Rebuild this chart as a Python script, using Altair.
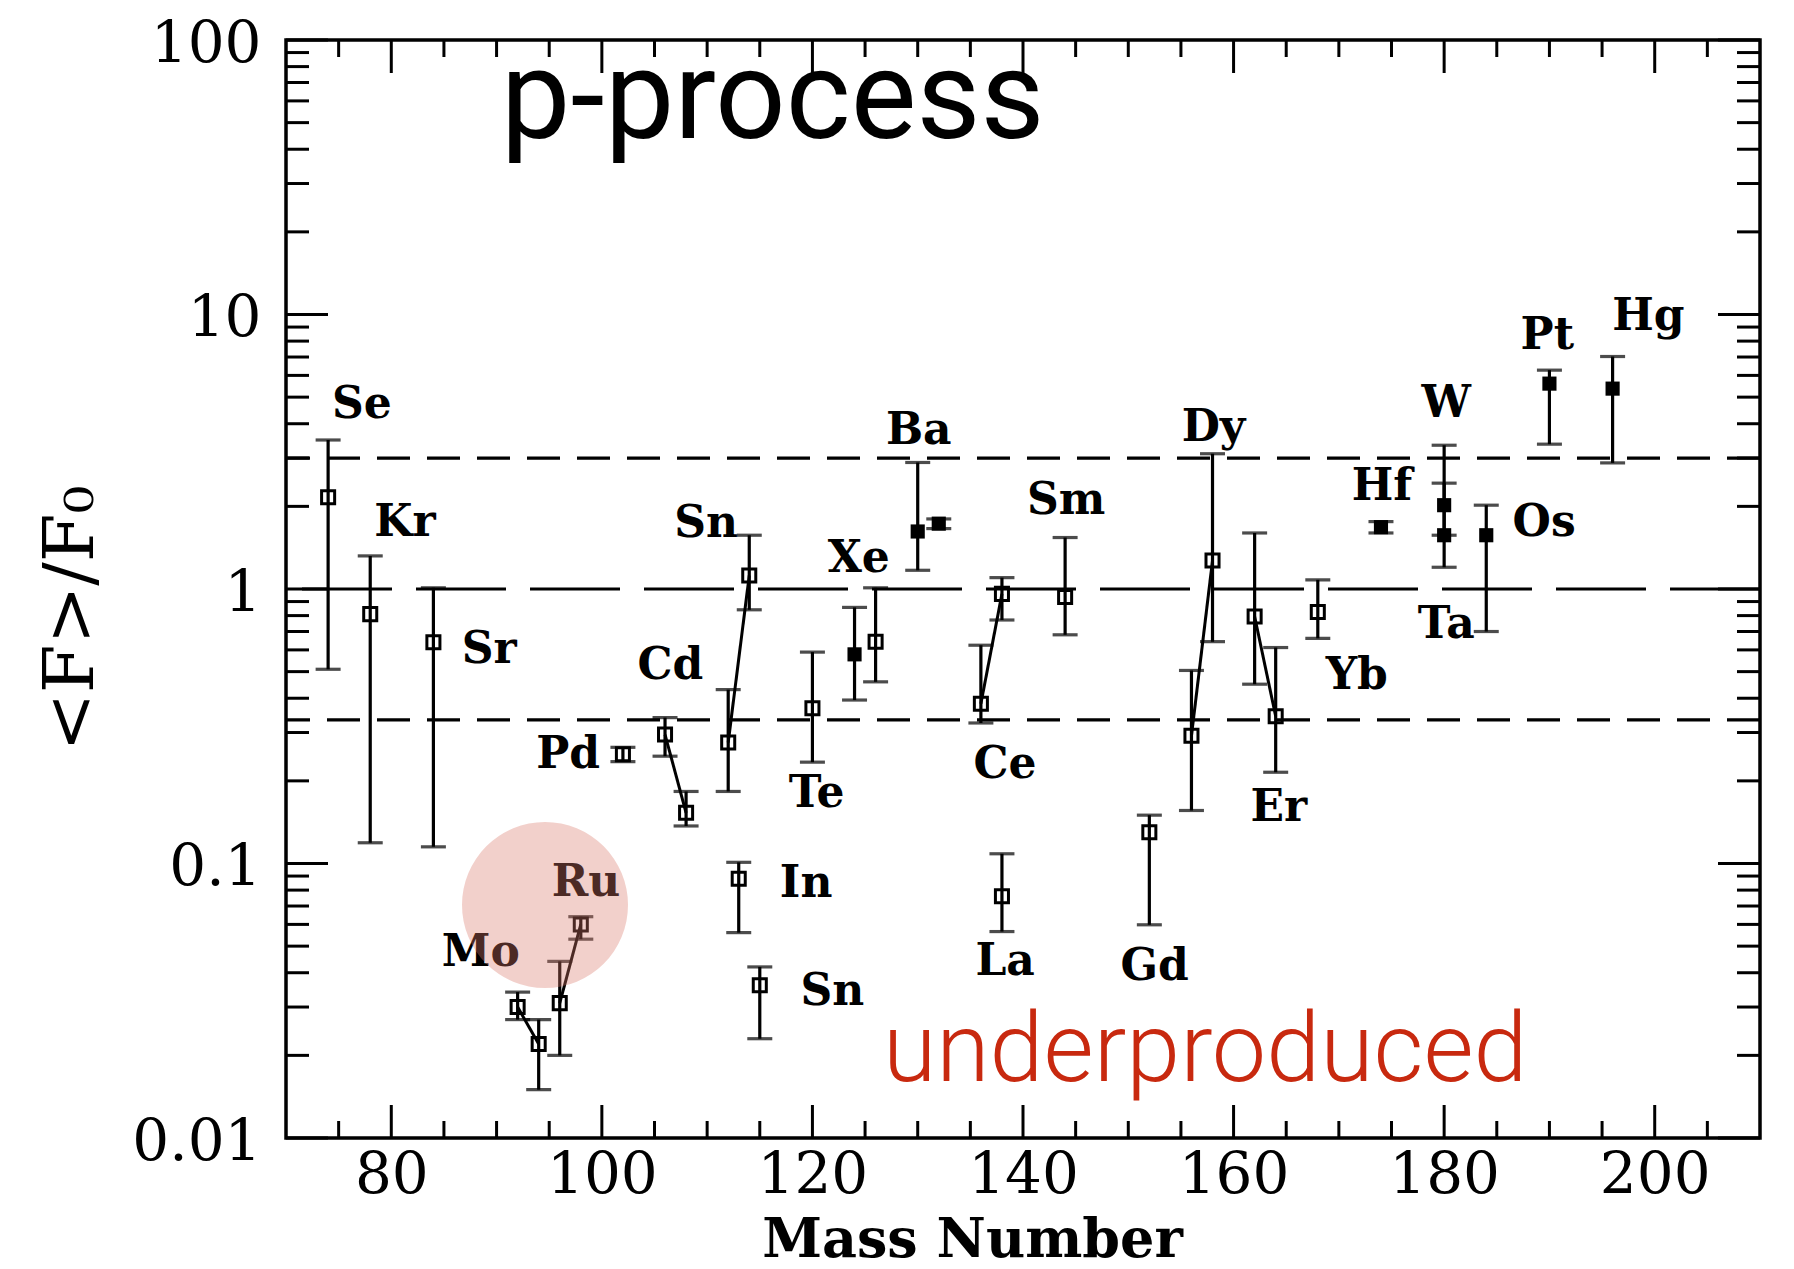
import altair as alt
import pandas as pd

# p-nuclei: mass number, normalised overproduction <F>/F0 and its uncertainty range
nuclide = ["74Se", "78Kr", "84Sr", "92Mo", "94Mo", "96Ru", "98Ru", "102Pd", "106Cd", "108Cd",
           "112Sn", "113In", "114Sn", "115Sn", "120Te", "124Xe", "126Xe", "130Ba", "132Ba",
           "136Ce", "138Ce", "138La", "144Sm", "152Gd", "156Dy", "158Dy", "162Er", "164Er",
           "168Yb", "174Hf", "180W", "180Ta", "184Os", "190Pt", "196Hg"]
mass = [74, 78, 84, 92, 94, 96, 98, 102, 106, 108,
        112, 113, 114, 115, 120, 124, 126, 130, 132,
        136, 138, 138, 144, 152, 156, 158, 162, 164,
        168, 174, 180, 180, 184, 190, 196]
ratio = [2.16, 0.81, 0.64, 0.030, 0.022, 0.031, 0.060, 0.25, 0.295, 0.153,
         0.276, 0.088, 1.12, 0.036, 0.368, 0.578, 0.643, 1.62, 1.73,
         0.382, 0.96, 0.076, 0.935, 0.130, 0.292, 1.27, 0.794, 0.344,
         0.825, 1.68, 2.02, 1.57, 1.57, 5.6, 5.37]
ratio_lo = [0.51, 0.119, 0.115, 0.027, 0.015, 0.020, 0.053, 0.235, 0.246, 0.137,
            0.183, 0.056, 0.84, 0.023, 0.234, 0.394, 0.459, 1.17, 1.66,
            0.325, 0.771, 0.0565, 0.681, 0.0598, 0.156, 0.643, 0.45, 0.215,
            0.661, 1.60, 1.57, 1.20, 0.70, 3.37, 2.88]
ratio_hi = [3.49, 1.32, 1.01, 0.034, 0.027, 0.044, 0.064, 0.265, 0.34, 0.183,
            0.43, 0.101, 1.57, 0.042, 0.589, 0.857, 1.01, 2.89, 1.80,
            0.624, 1.10, 0.1085, 1.54, 0.150, 0.505, 3.11, 1.60, 0.612,
            1.08, 1.76, 3.34, 2.43, 2.02, 6.27, 7.03]
solid = [False, False, False, False, False, False, False, False, False, False,
         False, False, False, False, False, True, False, True, True,
         False, False, False, False, False, False, False, False, False,
         False, True, True, True, True, True, True]

# isotope pairs of the same element joined by a line
pairs = [("Mo", "92Mo", "94Mo"), ("Ru", "96Ru", "98Ru"), ("Cd", "106Cd", "108Cd"),
         ("Sn", "112Sn", "114Sn"), ("Ce", "136Ce", "138Ce"), ("Dy", "156Dy", "158Dy"),
         ("Er", "162Er", "164Er")]

# element labels and where they sit (mass number, <F>/F0)
label_text = ["Se", "Kr", "Sr", "Mo", "Ru", "Pd", "Cd", "Sn", "Sn", "In", "Te", "Xe", "Ba",
              "Sm", "Ce", "La", "Gd", "Dy", "Er", "Yb", "Hf", "W", "Ta", "Os", "Pt", "Hg"]
label_x = [77.2, 81.3, 89.3, 88.5, 98.5, 96.8, 106.5, 109.9, 121.9, 119.4, 120.4, 124.4, 130.1,
           144.1, 138.3, 138.3, 152.5, 158.1, 164.3, 171.7, 174.1, 180.2, 180.2, 189.5, 189.8, 199.4]
label_y = [4.69, 1.743, 0.602, 0.0473, 0.0849, 0.2485, 0.5254, 1.726, 0.0340, 0.0839, 0.1792,
           1.282, 3.755, 2.092, 0.228, 0.04377, 0.0421, 3.866, 0.1598, 0.4817, 2.346, 4.729,
           0.742, 1.743, 8.33, 9.80]

# reference levels: factor 3 band and unity
band_levels = [3.0, 1.0 / 3.0]
unity_level = [1.0]

# axis ticks
x_label_values = [80, 100, 120, 140, 160, 180, 200]
x_minor_values = [75, 85, 90, 95, 105, 110, 115, 125, 130, 135, 145, 150, 155,
                  165, 170, 175, 185, 190, 195, 205]
y_label_values = [0.01, 0.1, 1, 10, 100]
y_minor_values = [k * 10.0 ** e for e in range(-2, 2) for k in range(2, 10)]

# annotations
title_text = "p-process"
title_pos = (90.4, 43.95)
note_text = "underproduced"
note_pos = (126.7, 0.01613)
highlight_pos = (94.6, 0.0706)

W, H = 1474, 1098
SERIF = "DejaVu Serif"

pts = pd.DataFrame({"nuclide": nuclide, "mass": mass, "ratio": ratio,
                    "lo": ratio_lo, "hi": ratio_hi, "solid": solid})
pair_rows = []
for el, a, b in pairs:
    for n in (a, b):
        r = pts[pts.nuclide == n].iloc[0]
        pair_rows.append({"pair": el, "mass": r.mass, "ratio": r.ratio})
pair_df = pd.DataFrame(pair_rows)
labels_df = pd.DataFrame({"label": label_text, "mass": label_x, "ratio": label_y})

xscale = alt.Scale(domain=[70, 210], nice=False, zero=False)
yscale = alt.Scale(type="log", domain=[0.01, 100], nice=False)

xaxis = alt.Axis(values=x_label_values, title="Mass Number", grid=False, domain=False,
                 ticks=False, tickSize=0, labelFont=SERIF, labelFontSize=58,
                 labelPadding=8, labelFlush=False, labelColor="black",
                 titleFont=SERIF, titleFontSize=54, titleFontWeight="bold",
                 titleColor="black", titleX=686, titleY=118, titleAlign="center",
                 titleBaseline="alphabetic")
yaxis = alt.Axis(values=y_label_values, format="~g", title="<F>/F₀", grid=False,
                 domain=False, ticks=False, tickSize=0, labelFont=SERIF,
                 labelFontSize=58, labelFontWeight="normal", labelPadding=25,
                 labelOffset=4, labelColor="black", titleFont=SERIF,
                 titleFontSize=70, titleFontWeight="normal", titleColor="black",
                 titleAngle=270, titleX=-215, titleY=578, titleAlign="center",
                 titleBaseline="middle")

X = alt.X("mass:Q", scale=xscale, axis=xaxis)
Y = alt.Y("ratio:Q", scale=yscale, axis=yaxis)

# dashed reference levels
band = alt.Chart(pd.DataFrame({"ratio": band_levels})).mark_rule(
    color="black", strokeWidth=3.2, strokeDash=[33, 17]).encode(y=Y)
unity = alt.Chart(pd.DataFrame({"ratio": unity_level})).mark_rule(
    color="black", strokeWidth=3.2, strokeDash=[90, 24]).encode(y=Y)

# inward ticks on all four sides
ymaj = pd.DataFrame({"ratio": y_label_values})
ymin = pd.DataFrame({"ratio": y_minor_values})
xmaj = pd.DataFrame({"mass": x_label_values})
xmin = pd.DataFrame({"mass": x_minor_values})
tick_style = dict(color="black", strokeWidth=3)
ticks = [
    alt.Chart(ymaj).mark_rule(**tick_style).encode(y=Y, x=alt.value(0), x2=alt.value(42)),
    alt.Chart(ymin).mark_rule(**tick_style).encode(y=Y, x=alt.value(0), x2=alt.value(23)),
    alt.Chart(ymaj).mark_rule(**tick_style).encode(y=Y, x=alt.value(W - 42), x2=alt.value(W)),
    alt.Chart(ymin).mark_rule(**tick_style).encode(y=Y, x=alt.value(W - 23), x2=alt.value(W)),
    alt.Chart(xmaj).mark_rule(**tick_style).encode(x=X, y=alt.value(H - 33), y2=alt.value(H)),
    alt.Chart(xmin).mark_rule(**tick_style).encode(x=X, y=alt.value(H - 17), y2=alt.value(H)),
    alt.Chart(xmaj).mark_rule(**tick_style).encode(x=X, y=alt.value(0), y2=alt.value(33)),
    alt.Chart(xmin).mark_rule(**tick_style).encode(x=X, y=alt.value(0), y2=alt.value(17)),
]

base = alt.Chart(pts)
bars = base.mark_rule(color="black", strokeWidth=3.2).encode(
    x=X, y=alt.Y("lo:Q", scale=yscale, axis=yaxis), y2="hi:Q")
cap_lo = base.mark_tick(orient="horizontal", color="black", size=25, thickness=3.2).encode(
    x=X, y=alt.Y("lo:Q", scale=yscale, axis=yaxis))
cap_hi = base.mark_tick(orient="horizontal", color="black", size=25, thickness=3.2).encode(
    x=X, y=alt.Y("hi:Q", scale=yscale, axis=yaxis))
links = alt.Chart(pair_df).mark_line(color="black", strokeWidth=3).encode(
    x=X, y=Y, detail="pair:N")
open_pts = base.transform_filter("!datum.solid").mark_point(
    shape="square", filled=False, size=170, strokeWidth=3, color="black", opacity=1
).encode(x=X, y=Y)
solid_pts = base.transform_filter("datum.solid").mark_point(
    shape="square", filled=True, size=200, color="black", opacity=1
).encode(x=X, y=Y)

labels = alt.Chart(labels_df).mark_text(
    font=SERIF, fontSize=44, fontWeight="bold", color="black",
    align="center", baseline="middle"
).encode(x=X, y=Y, text="label:N")

heading = alt.Chart(pd.DataFrame({"mass": [title_pos[0]], "ratio": [title_pos[1]],
                                  "t": [title_text]})).mark_text(
    font="Roboto", fontSize=124, color="black", align="left", baseline="alphabetic"
).encode(x=X, y=Y, text="t:N")
note = alt.Chart(pd.DataFrame({"mass": [note_pos[0]], "ratio": [note_pos[1]],
                               "t": [note_text]})).mark_text(
    font="Roboto", fontSize=97, fontWeight=300, color="#c8290f", align="left",
    baseline="alphabetic"
).encode(x=X, y=Y, text="t:N")
# symbol size is the square of the diameter in pixels
highlight = alt.Chart(pd.DataFrame({"mass": [highlight_pos[0]],
                                    "ratio": [highlight_pos[1]]})).mark_circle(
    size=27556, color="#d9776a", opacity=0.35
).encode(x=X, y=Y)

chart = alt.layer(
    band, unity, *ticks, bars, cap_lo, cap_hi, links, open_pts, solid_pts,
    labels, heading, note, highlight
).properties(
    width=W, height=H,
    autosize=alt.AutoSizeParams(type="none"),
    padding={"left": 286, "top": 40, "right": 34, "bottom": 131},
    background="white",
).configure_view(
    stroke="black", strokeWidth=3.5
)

chart.save("out.html", embed_options={"renderer": "svg", "actions": False})
